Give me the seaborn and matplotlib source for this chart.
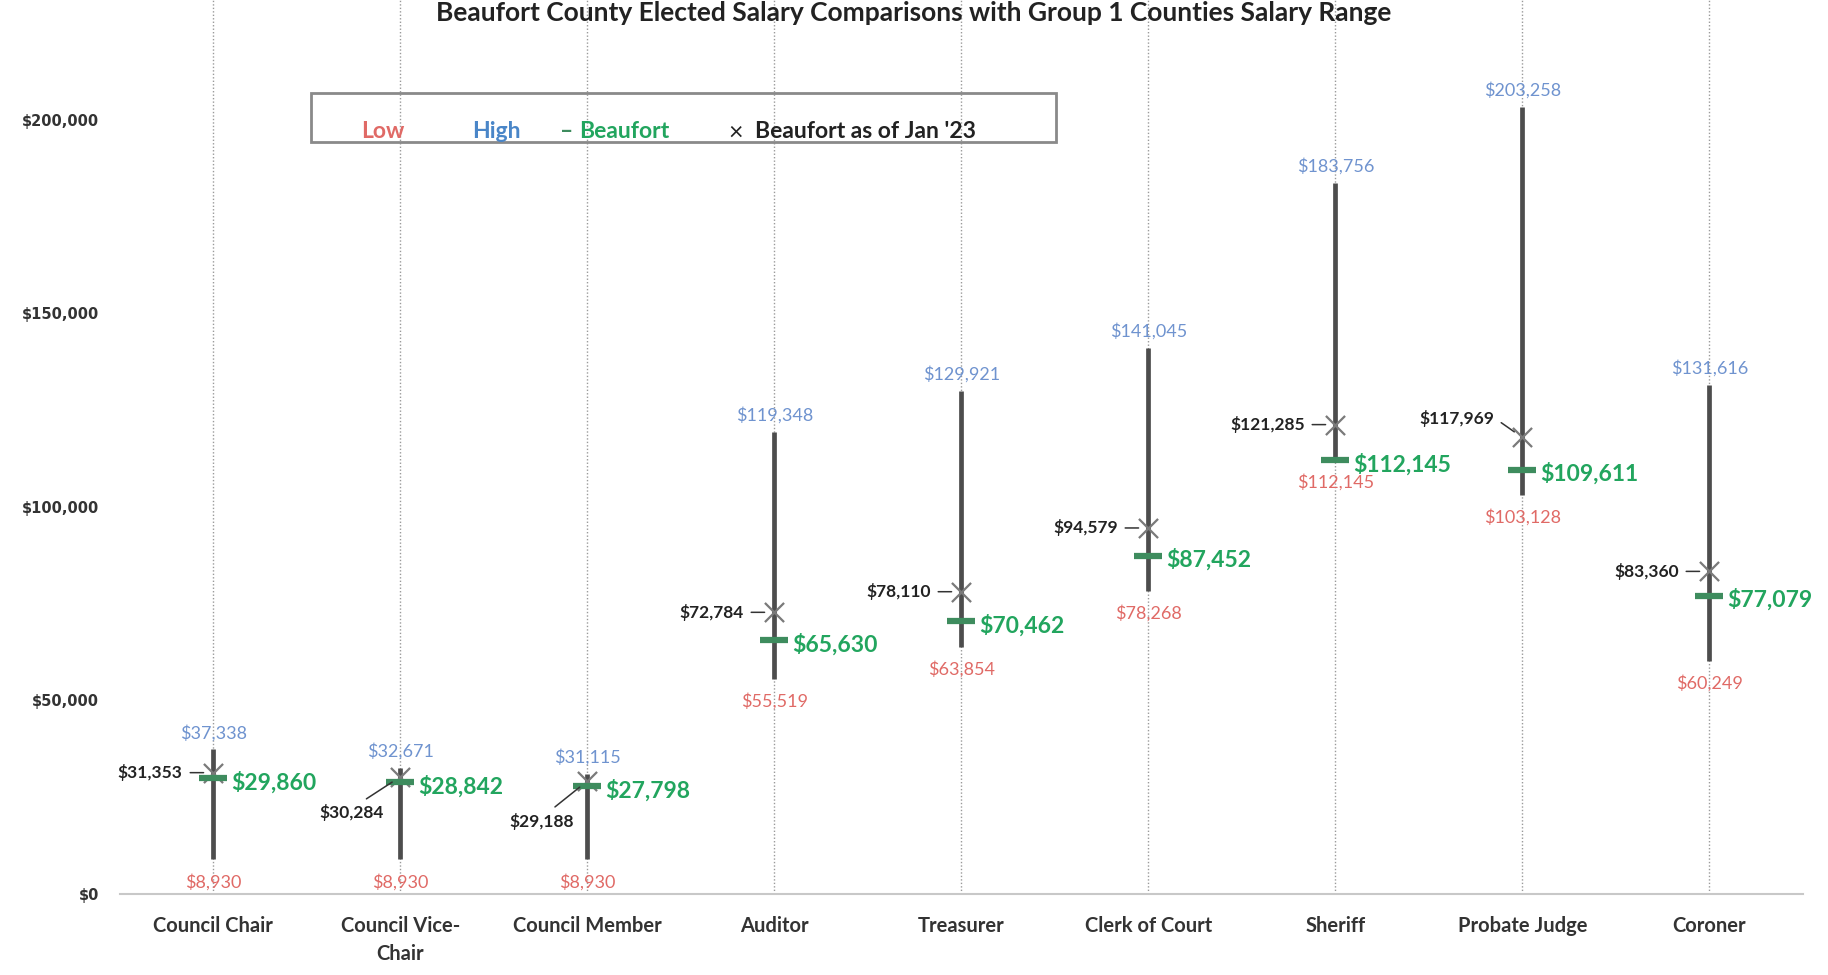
import matplotlib
matplotlib.use("Agg")
import matplotlib.pyplot as plt
import seaborn as sns
import pandas as pd
from matplotlib.ticker import FuncFormatter
from matplotlib.patches import Rectangle

# ---- data ----
categories = ["Council Chair", "Council Vice-\nChair", "Council Member", "Auditor", "Treasurer",
              "Clerk of Court", "Sheriff", "Probate Judge", "Coroner"]
low = [8930, 8930, 8930, 55519, 63854, 78268, 112145, 103128, 60249]
high = [37338, 32671, 31115, 119348, 129921, 141045, 183756, 203258, 131616]
beaufort = [29860, 28842, 27798, 65630, 70462, 87452, 112145, 109611, 77079]
jan23 = [31353, 30284, 29188, 72784, 78110, 94579, 121285, 117969, 83360]
yticks = [0, 50000, 100000, 150000, 200000]
title = "Beaufort County Elected Salary Comparisons with Group 1 Counties Salary Range"

df = pd.DataFrame({"cat": categories, "low": low, "high": high,
                   "beaufort": beaufort, "jan23": jan23})
df["pos"] = range(len(df))

sns.set_theme(style="white")
plt.rcParams["font.family"] = ["Lato", "DejaVu Sans"]

RED = "#E06A66"
BLUE = "#6F93CF"
LBLUE = "#4A86C8"
GREEN = "#22A55E"
DGREEN = "#3E8C5E"
BLACK = "#222222"
LINE = "#4d4d4d"

fig = plt.figure(figsize=(18.28, 9.75), dpi=100)
ax = fig.add_axes([119.8 / 1828, 81 / 975, 1683 / 1828, 894 / 975])
ax.set_xlim(-0.5, 8.5)
ax.set_ylim(0, 231000)

# dotted category guide lines
ax.vlines(df["pos"], 0, 231000, colors="#9a9a9a", linestyles=(0, (1, 1.5)), lw=1, zorder=0)

# range lines low -> high
ax.vlines(df["pos"], df["low"], df["high"], colors=LINE, lw=3.4, zorder=2)

# markers
sns.scatterplot(data=df, x="pos", y="beaufort", marker="_", s=420, linewidth=4.5,
                color=DGREEN, ax=ax, zorder=4, legend=False)
sns.scatterplot(data=df, x="pos", y="jan23", marker="x", s=190, linewidth=1.6,
                color="#7a7a7a", ax=ax, zorder=3, legend=False)

# labels
jan_offsets = {1: (-12, -26), 2: (-10, -29), 7: (-20, 14)}
for _, r in df.iterrows():
    x = r["pos"]
    ax.annotate(f"${r['high']:,.0f}", (x, r["high"]), xytext=(0, 6), textcoords="offset points",
                ha="center", va="bottom", color=BLUE, fontsize=13, zorder=5)
    ax.annotate(f"${r['low']:,.0f}", (x, r["low"]), xytext=(0, -10), textcoords="offset points",
                ha="center", va="top", color=RED, fontsize=13, zorder=5)
    ax.annotate(f"${r['beaufort']:,.0f}", (x, r["beaufort"]), xytext=(13, -3),
                textcoords="offset points", ha="left", va="center", color=GREEN,
                fontsize=16.5, fontweight="bold", zorder=5)
    i = int(x)
    off = jan_offsets.get(i, (-22, 0))
    relpos = (0.6, 1) if i in (1, 2) else (1, 0.5)
    ax.annotate(f"${r['jan23']:,.0f}", (x, r["jan23"]), xytext=off, textcoords="offset points",
                ha="right", va="center", color=BLACK, fontsize=12.5, fontweight="bold", zorder=5,
                arrowprops=dict(arrowstyle="-", color="#333333", lw=1.1, relpos=relpos,
                                shrinkA=3, shrinkB=7))

# axes styling
ax.set_xticks(df["pos"])
ax.set_xticklabels(df["cat"], fontsize=14.5, fontweight="bold", color="#333333", linespacing=1.5)
ax.set_yticks(yticks)
ax.yaxis.set_major_formatter(FuncFormatter(lambda v, p: f"${v:,.0f}"))
for lab in ax.get_yticklabels():
    lab.set_fontfamily("DejaVu Sans")
    lab.set_fontweight("bold")
    lab.set_fontsize(10.5)
    lab.set_color("#333333")
ax.tick_params(axis="y", length=0, pad=15)
ax.tick_params(axis="x", length=0, pad=16)
ax.set_xlabel("")
ax.set_ylabel("")
for s in ["top", "right", "left"]:
    ax.spines[s].set_visible(False)
ax.spines["bottom"].set_color("#c8c8c8")
ax.spines["bottom"].set_linewidth(1.5)
ax.grid(False)

# title
fig.text(0.5, 0.999, title, ha="center", va="top", fontsize=19, fontweight="bold", color="#222222")

# legend box
fig.patches.append(Rectangle((311 / 1828, 1 - 142 / 975), 745 / 1828, 49 / 975,
                             transform=fig.transFigure, fill=False, edgecolor="#8a8a8a", lw=2))
ly = 1 - 132 / 975
fig.text(361 / 1828, ly, "Low", ha="left", va="center", color=RED, fontsize=16.5, fontweight="bold")
fig.text(472 / 1828, ly, "High", ha="left", va="center", color=LBLUE, fontsize=16.5, fontweight="bold")
fig.text(560 / 1828, ly, "\u2013", ha="left", va="center", color=DGREEN, fontsize=16.5, fontweight="bold")
fig.text(579 / 1828, ly, "Beaufort", ha="left", va="center", color=GREEN, fontsize=16.5, fontweight="bold")
fig.text(728 / 1828, ly, "\u00d7", ha="left", va="center", color=BLACK, fontsize=18)
fig.text(755 / 1828, ly, "Beaufort as of Jan '23", ha="left", va="center", color=BLACK,
         fontsize=16.5, fontweight="bold")

fig.savefig("out.png", dpi=100, facecolor="white")
